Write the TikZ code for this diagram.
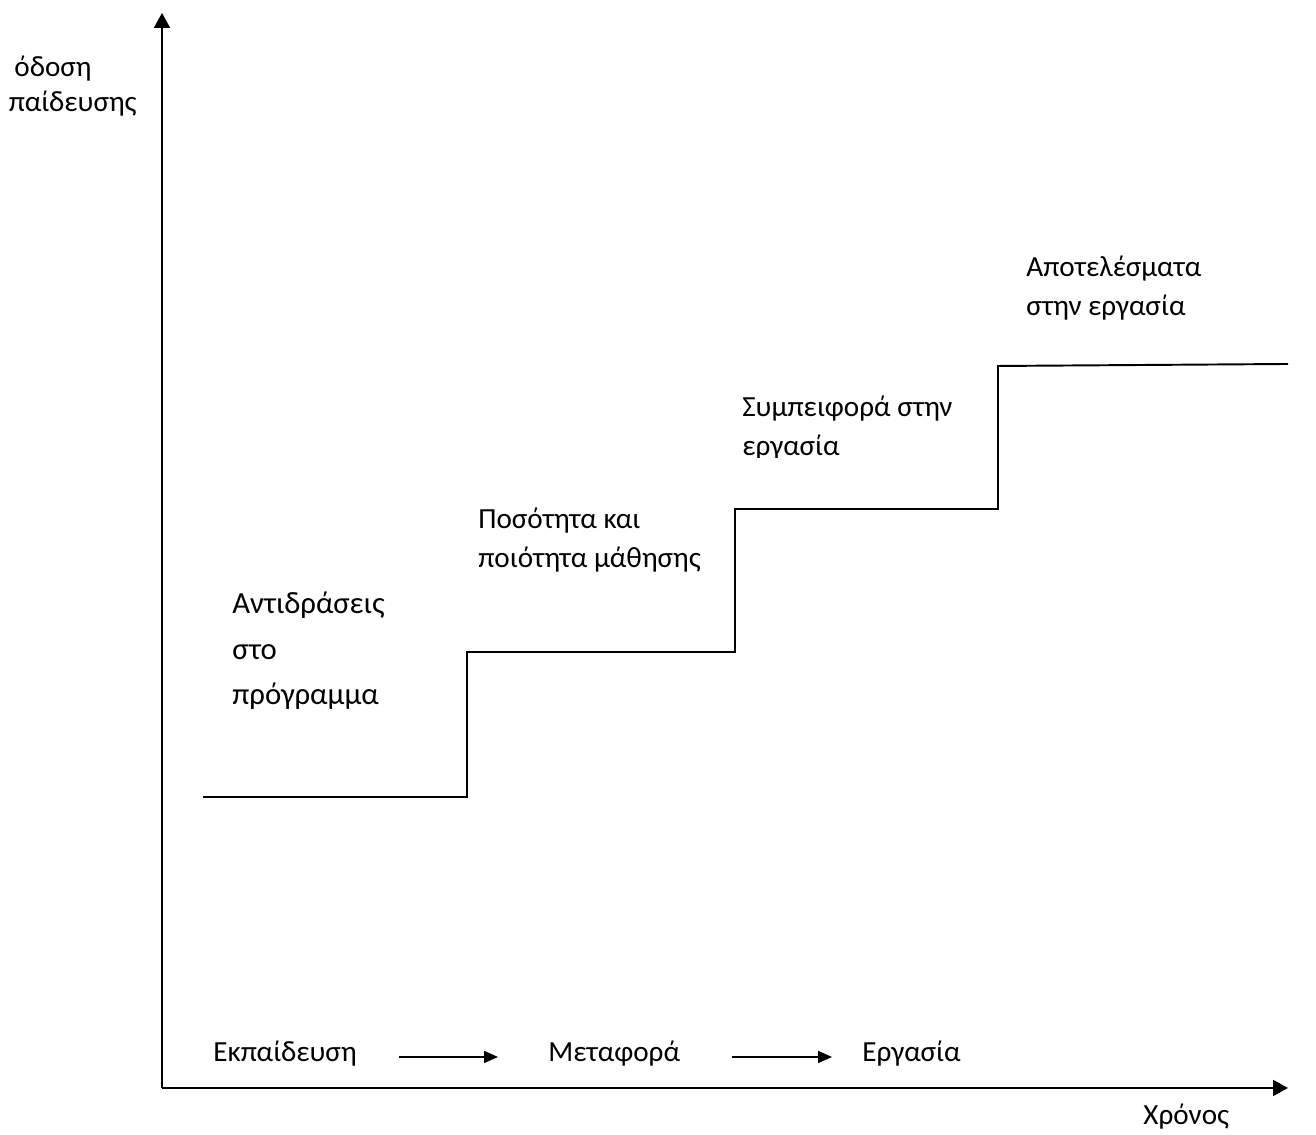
\documentclass[tikz,border=0pt]{standalone}
\usepackage{fontspec}
\setmainfont{Carlito}
\usetikzlibrary{arrows.meta}

\begin{document}
\begin{tikzpicture}[
    axis/.style={line width=1.1pt, -{Triangle[width=0.32cm,length=0.3cm]}},
    stair/.style={line width=1.1pt},
    flow/.style={line width=0.85pt, -{Triangle[width=0.24cm,length=0.28cm]}},
    txt/.style={anchor=base west, inner sep=0pt, font=\fontsize{16.6}{19}\selectfont},
    bigtxt/.style={txt, font=\fontsize{17.5}{20}\selectfont}
  ]
        % Fix the page size
        \useasboundingbox (-3.24,-0.94) rectangle (23.08,21.76);

        % Define the corner of the axes and their ends
        \coordinate (origin) at (0,0);
        \coordinate (y-end) at (0,21.5);
        \coordinate (x-end) at (22.52,0);

        % Draw the axes
        \draw[axis] (origin) -- (y-end);
        \draw[axis] (origin) -- (x-end);

        % Axis titles
        \node[txt, anchor=base east] (perf-1) at (-1.4,20.22) {όδοση};
        \node[txt, anchor=base east] (perf-2) at (-0.5,19.52) {παίδευσης};
        \node[txt] (time) at (19.62,-0.74) {Χρόνος};

        % Define the corners of the steps
        \coordinate (s0) at (0.82,5.82);
        \coordinate (s1) at (6.1,5.82);
        \coordinate (s2) at (6.1,8.72);
        \coordinate (s3) at (11.46,8.72);
        \coordinate (s4) at (11.46,11.58);
        \coordinate (s5) at (16.72,11.58);
        \coordinate (s6) at (16.72,14.44);
        \coordinate (s7) at (22.52,14.48);

        % Draw the steps
        \draw[stair] (s0) -- (s1) -- (s2) -- (s3) -- (s4) -- (s5) -- (s6) -- (s7);

        % Labels for the levels
        \node[bigtxt] (react-1) at (1.4,9.48) {Αντιδράσεις};
        \node[bigtxt] (react-2) at (1.4,8.56) {στο};
        \node[bigtxt] (react-3) at (1.4,7.66) {πρόγραμμα};

        \node[txt] (learn-1) at (6.32,11.18) {Ποσότητα και};
        \node[txt] (learn-2) at (6.32,10.4) {ποιότητα μάθησης};

        \node[txt] (behave-1) at (11.6,13.42) {Συμπειφορά στην};
        \begin{scope}
            \clip (11.4,12.6) rectangle (16,13.2);
            \node[txt] (behave-2) at (11.6,12.64) {εργασία};
        \end{scope}

        \node[txt] (result-1) at (17.28,16.22) {Αποτελέσματα};
        \node[txt] (result-2) at (17.28,15.44) {στην εργασία};

        % Stages along the time axis
        \node[txt] (train) at (1.02,0.52) {Εκπαίδευση};
        \node[txt] (transfer) at (7.72,0.52) {Μεταφορά};
        \node[txt] (work) at (14.0,0.52) {Εργασία};

        \coordinate (a1-start) at (4.74,0.62);
        \coordinate (a1-end) at (6.72,0.62);
        \coordinate (a2-start) at (11.4,0.62);
        \coordinate (a2-end) at (13.4,0.62);
        \draw[flow] (a1-start) -- (a1-end);
        \draw[flow] (a2-start) -- (a2-end);
\end{tikzpicture}
\end{document}
